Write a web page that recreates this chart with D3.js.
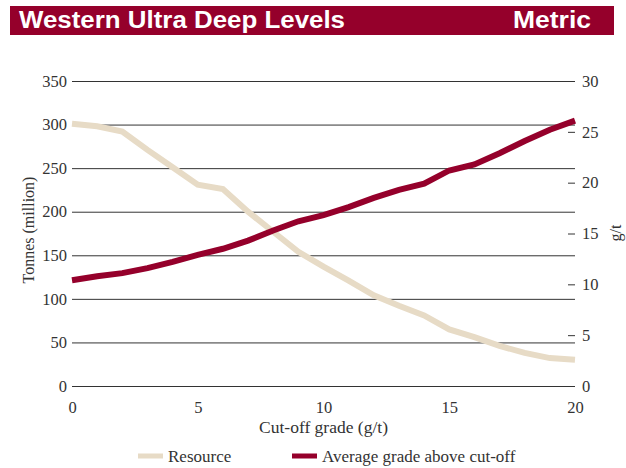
<!DOCTYPE html>
<html lang="en">
<head>
  <meta charset="UTF-8">
  <title>Western Ultra Deep Levels</title>
  <script src="https://d3js.org/d3.v7.min.js"></script>
  <style>
    body { margin: 0; background: #fff; }
  </style>
</head>
<body>

<div id="chart"></div>

<script>
  // Cut-off grade (g/t)
  const cutoff = [0, 1, 2, 3, 4, 5, 6, 7, 8, 9, 10, 11, 12, 13, 14, 15, 16, 17, 18, 19, 20];
  // Resource, tonnes (million) - left axis
  const resource = [301, 298, 292, 271, 251, 231, 226, 200, 177, 154, 137, 121, 104, 92, 81, 65, 56, 46, 38, 32, 30];
  // Average grade above cut-off, g/t - right axis
  const grade = [10.4, 10.8, 11.1, 11.6, 12.2, 12.9, 13.5, 14.3, 15.3, 16.2, 16.8, 17.6, 18.5, 19.3, 19.9, 21.2, 21.8, 22.9, 24.1, 25.2, 26.1];

  const xTicks = [0, 5, 10, 15, 20];
  const leftTicks = [0, 50, 100, 150, 200, 250, 300, 350];
  const rightTicks = [0, 5, 10, 15, 20, 25, 30];

  const width = 626, height = 468;
  const plotL = 72, plotR = 575, plotT = 81, plotB = 386;
  const serif = "'Liberation Serif', 'DejaVu Serif', serif";
  const sans = "'Liberation Sans', Arial, sans-serif";
  const sand = "#e7dbc6", wine = "#95002b", ink = "#333";

  const svg = d3.select("#chart").append("svg")
    .attr("width", width)
    .attr("height", height);

  // Title bar
  svg.append("rect")
    .attr("x", 10).attr("y", 6).attr("width", 604).attr("height", 29)
    .attr("fill", wine);
  svg.append("text")
    .attr("x", 19).attr("y", 28)
    .attr("font-family", sans)
    .attr("font-weight", "bold").attr("font-size", 23)
    .attr("textLength", 326).attr("lengthAdjust", "spacingAndGlyphs")
    .attr("fill", "#fff")
    .text("Western Ultra Deep Levels");
  svg.append("text")
    .attr("x", 513).attr("y", 28)
    .attr("font-family", sans)
    .attr("font-weight", "bold").attr("font-size", 23)
    .attr("textLength", 78).attr("lengthAdjust", "spacingAndGlyphs")
    .attr("fill", "#fff")
    .text("Metric");

  const x = d3.scaleLinear().domain([0, 20]).range([plotL, plotR]);
  const yL = d3.scaleLinear().domain([0, 350]).range([plotB, plotT]);
  const yR = d3.scaleLinear().domain([0, 30]).range([plotB, plotT]);

  // Gridlines + left labels
  const gl = svg.append("g")
    .attr("transform", `translate(${plotL},0)`)
    .call(d3.axisLeft(yL).tickValues(leftTicks).tickSize(-(plotR - plotL)).tickPadding(5));
  gl.select(".domain").remove();
  gl.selectAll(".tick line").attr("stroke", ink).attr("stroke-width", 1);
  gl.selectAll(".tick text")
    .attr("font-family", serif).attr("font-size", 16.5).attr("fill", ink);

  // Right axis
  const gr = svg.append("g")
    .attr("transform", `translate(${plotR},0)`)
    .call(d3.axisRight(yR).tickValues(rightTicks).tickSize(0).tickPadding(7));
  gr.select(".domain").remove();
  gr.selectAll(".tick text")
    .attr("font-family", serif).attr("font-size", 16.5).attr("fill", ink);
  // short dashes before right labels
  gr.selectAll(".tick")
    .filter(d => d !== 0 && d !== 30)
    .append("line")
    .attr("x1", -7).attr("x2", 0)
    .attr("stroke", ink).attr("stroke-width", 1);

  // X axis labels
  const gx = svg.append("g")
    .attr("transform", `translate(0,${plotB})`)
    .call(d3.axisBottom(x).tickValues(xTicks).tickSize(0).tickPadding(15));
  gx.select(".domain").remove();
  gx.selectAll(".tick text")
    .attr("font-family", serif).attr("font-size", 16.5).attr("fill", ink);

  // Lines
  const lineRes = d3.line().x((d, i) => x(cutoff[i])).y(d => yL(d));
  const lineGrade = d3.line().x((d, i) => x(cutoff[i])).y(d => yR(d));

  svg.append("path")
    .datum(resource)
    .attr("d", lineRes)
    .attr("fill", "none").attr("stroke", sand).attr("stroke-width", 6);

  svg.append("path")
    .datum(grade)
    .attr("d", lineGrade)
    .attr("fill", "none").attr("stroke", wine).attr("stroke-width", 6);

  // Axis titles
  svg.append("text")
    .attr("transform", "translate(34,230) rotate(-90)")
    .attr("text-anchor", "middle")
    .attr("font-family", serif).attr("font-size", 16).attr("fill", ink)
    .text("Tonnes (million)");
  svg.append("text")
    .attr("transform", "translate(621,233) rotate(-90)")
    .attr("text-anchor", "middle")
    .attr("font-family", serif).attr("font-size", 16).attr("fill", ink)
    .text("g/t");
  svg.append("text")
    .attr("x", (plotL + plotR) / 2).attr("y", 433)
    .attr("text-anchor", "middle")
    .attr("font-family", serif).attr("font-size", 17.5).attr("fill", ink)
    .text("Cut-off grade (g/t)");

  // Legend
  const legend = [
    { label: "Resource", color: sand, x: 138 },
    { label: "Average grade above cut-off", color: wine, x: 292 }
  ];
  const lg = svg.selectAll(".legend").data(legend).enter().append("g")
    .attr("transform", d => `translate(${d.x},456)`);
  lg.append("rect")
    .attr("x", 0).attr("y", -2.5).attr("width", 25).attr("height", 5)
    .attr("fill", d => d.color);
  lg.append("text")
    .attr("x", 30).attr("y", 6)
    .attr("font-family", serif).attr("font-size", 17).attr("fill", ink)
    .text(d => d.label);
</script>

</body>
</html>
